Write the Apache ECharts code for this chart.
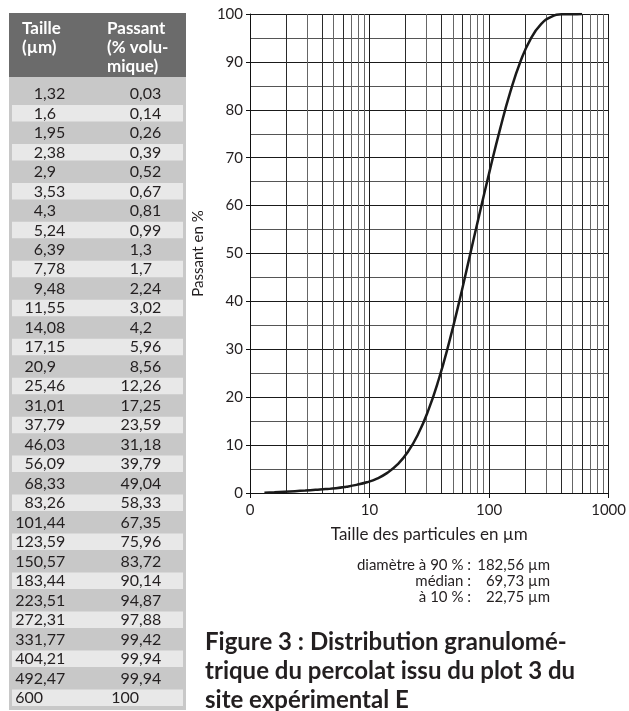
<!DOCTYPE html>
<html>
<head>
<meta charset="utf-8">
<script src="https://cdn.jsdelivr.net/npm/echarts@6/dist/echarts.min.js"></script>
<style>
html, body { margin: 0; padding: 0; background: #fff; }
#main { width: 629px; height: 711px; }
</style>
</head>
<body>
<div id="main"></div>
<script>
// distribution granulométrique du percolat, plot 3
var taille = [1.32, 1.6, 1.95, 2.38, 2.9, 3.53, 4.3, 5.24, 6.39, 7.78, 9.48, 11.55, 14.08, 17.15, 20.9, 25.46,
    31.01, 37.79, 46.03, 56.09, 68.33, 83.26, 101.44, 123.59, 150.57, 183.44, 223.51, 272.31, 331.77, 404.21, 492.47, 600];
var passant = [0.03, 0.14, 0.26, 0.39, 0.52, 0.67, 0.81, 0.99, 1.3, 1.7, 2.24, 3.02, 4.2, 5.96, 8.56, 12.26,
    17.25, 23.59, 31.18, 39.79, 49.04, 58.33, 67.35, 75.96, 83.72, 90.14, 94.87, 97.88, 99.42, 99.94, 99.94, 100];
var decades = [1, 10, 100];
var minorSteps = [2, 3, 4, 5, 6, 7, 8, 9];
var headTaille = ['Taille', '(µm)'];
var headPassant = ['Passant', '(% volu-', 'mique)'];
var statLabels = ['diamètre à 90 % :', 'médian :', 'à 10 % :'];
var statValues = ['182,56 µm', '69,73 µm', '22,75 µm'];
var caption = ['Figure 3 : Distribution granulomé-', 'trique du percolat issu du plot 3 du', 'site expérimental E'];

var FONT = 'Lato, "Open Sans", sans-serif';
var TXT = '#231f20';

var myChart = echarts.init(document.getElementById('main'));

// le tableau à gauche
var graphics = [];
var tabTop = 77, rowH = 19.48, firstC = 94;
graphics.push({ type: 'rect', shape: { x: 9, y: 13, width: 177, height: tabTop - 13 }, style: { fill: '#6b6b6b' } });
graphics.push({ type: 'rect', shape: { x: 9, y: tabTop, width: 177, height: 710 - tabTop }, style: { fill: '#c8c8c8' } });
headTaille.forEach(function (t, i) {
    graphics.push({ type: 'text', x: 22, y: 29 + i * 19, style: { text: t, fill: '#fff', font: 'bold 17px ' + FONT, textAlign: 'left', textVerticalAlign: 'middle' } });
});
headPassant.forEach(function (t, i) {
    graphics.push({ type: 'text', x: 107, y: 29 + i * 19, style: { text: t, fill: '#fff', font: 'bold 17px ' + FONT, textAlign: 'left', textVerticalAlign: 'middle' } });
});

function cell(val, tabX, cy) {
    var parts = String(val).split('.');
    graphics.push({ type: 'text', x: tabX, y: cy, style: { text: parts[0], fill: TXT, font: '16px ' + FONT, textAlign: 'right', textVerticalAlign: 'middle' } });
    if (parts.length > 1) {
        graphics.push({ type: 'text', x: tabX, y: cy, style: { text: ',' + parts[1], fill: TXT, font: '16px ' + FONT, textAlign: 'left', textVerticalAlign: 'middle' } });
    }
}

taille.forEach(function (t, i) {
    var cy = firstC + i * rowH;
    if (i % 2 === 1) {
        graphics.push({ type: 'rect', shape: { x: 12, y: cy - 8.5, width: 171, height: 16.5 }, style: { fill: '#e8e8e8' } });
    }
    cell(t, 43, cy);
    cell(passant[i], 139, cy);
});

// valeurs caractéristiques
statLabels.forEach(function (t, i) {
    graphics.push({ type: 'text', x: 471, y: 565 + i * 16, style: { text: t, fill: TXT, font: '15px ' + FONT, textAlign: 'right', textVerticalAlign: 'middle' } });
    graphics.push({ type: 'text', x: 550, y: 565 + i * 16, style: { text: statValues[i], fill: TXT, font: '15px ' + FONT, textAlign: 'right', textVerticalAlign: 'middle' } });
});

// légende de la figure
caption.forEach(function (t, i) {
    graphics.push({ type: 'text', x: 205, y: 642 + i * 29, style: { text: t, fill: TXT, font: 'bold 24px ' + FONT, textAlign: 'left', textVerticalAlign: 'middle' } });
});

// lignes verticales intermédiaires (2..9 par décade)
var minorLines = [];
decades.forEach(function (d) {
    minorSteps.forEach(function (k) {
        minorLines.push({ xAxis: k * d, lineStyle: { color: (k === 2 || k === 4 || k === 6) ? '#2a2a2a' : '#666', width: 1, type: 'solid' } });
    });
});

var option = {
    animation: false,
    textStyle: { fontFamily: FONT },
    grid: { left: 250, right: 16, top: 14, bottom: 218 },
    xAxis: {
        type: 'log',
        logBase: 10,
        min: 1,
        max: 1000,
        name: 'Taille des particules en µm',
        nameLocation: 'middle',
        nameGap: 33,
        nameTextStyle: { fontSize: 17, color: TXT, fontFamily: FONT },
        axisLine: { lineStyle: { color: '#111', width: 1 } },
        axisTick: { show: true, length: 5, lineStyle: { color: '#111' } },
        axisLabel: {
            fontSize: 15, color: TXT, margin: 10, fontFamily: FONT,
            formatter: function (v) { return v === 1 ? '0' : String(v); }
        },
        splitLine: { show: true, lineStyle: { color: '#1a1a1a', width: 1 } }
    },
    yAxis: {
        type: 'value',
        min: 0,
        max: 100,
        interval: 10,
        name: 'Passant en %',
        nameLocation: 'middle',
        nameGap: 33,
        nameTextStyle: { fontSize: 15, color: TXT, fontFamily: FONT },
        axisLine: { show: true, lineStyle: { color: '#111', width: 1 } },
        axisTick: { show: true, length: 4, lineStyle: { color: '#111' } },
        axisLabel: { fontSize: 15, color: TXT, margin: 7, fontFamily: FONT },
        splitLine: { show: true, lineStyle: { color: '#1a1a1a', width: 1 } },
        minorTick: { show: false, splitNumber: 2 },
        minorSplitLine: { show: true, lineStyle: { color: '#555', width: 1 } }
    },
    series: [{
        name: 'Passant',
        type: 'line',
        data: taille.map(function (t, i) { return [t, passant[i]]; }),
        smooth: true,
        showSymbol: false,
        symbol: 'none',
        lineStyle: { color: '#1a1a1a', width: 2.5 },
        z: 5,
        markLine: {
            silent: true,
            symbol: ['none', 'none'],
            label: { show: false },
            animation: false,
            z: 1,
            data: minorLines
        }
    }],
    graphic: { elements: graphics }
};
myChart.setOption(option);

window.onresize = function () {
    myChart.resize();
};
</script>
</body>
</html>
